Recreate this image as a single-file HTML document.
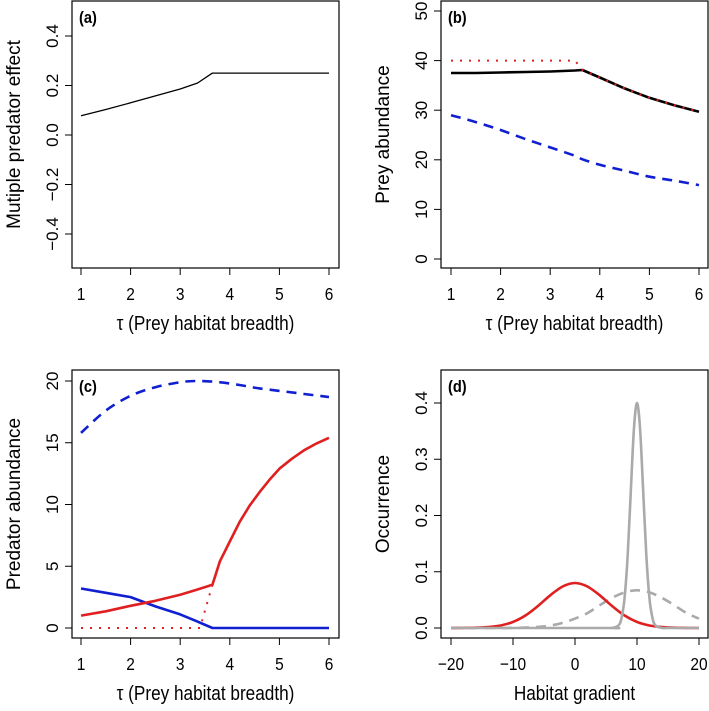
<!DOCTYPE html>
<html><head><meta charset="utf-8"><style>
body{margin:0;background:#fff}
svg{display:block;font-family:"Liberation Sans",Arial,sans-serif}
</style></head><body>
<svg id="fig" width="709" height="711" viewBox="0 0 709 711"></svg>
<script>
const tauTicks=[1,2,3,4,5,6];
// panel a
const aX=[1,1.5,2,2.5,3,3.35,3.65,4,5,6];
const aY=[0.078,0.103,0.13,0.158,0.186,0.21,0.25,0.25,0.25,0.25];
const aTicks=[-0.4,-0.2,0.0,0.2,0.4];
const aTickLabels=["\u22120.4","\u22120.2","0.0","0.2","0.4"];
// panel b
const bX=[1,1.5,2,2.5,3,3.5,3.65,4,4.5,5,5.5,6];
const bBlack=[37.5,37.5,37.6,37.7,37.8,38,38.1,36.6,34.4,32.5,31,29.7];
const bRedX=[1,3.5,3.65,4,4.5,5,5.5,6];
const bRed=[40,40,38.1,36.6,34.4,32.5,31,29.7];
const bBlue=[29,27.6,26,24.2,22.5,20.8,20.1,19,17.8,16.6,15.8,14.9];
const bTicks=[0,10,20,30,40,50];
// panel c
const cX=[1,1.5,2,2.5,3,3.3,3.65,4,4.3,4.6,5,5.5,6];
const cBlueDash=[15.8,17.6,18.8,19.5,19.9,20,19.95,19.8,19.6,19.4,19.2,18.95,18.7];
const cBlue=[3.2,2.85,2.5,1.75,1.1,0.6,0,0,0,0,0,0,0];
const cRedX=[1,1.5,2,2.5,3,3.3,3.65,3.8,4,4.2,4.4,4.6,4.8,5,5.25,5.5,5.75,6];
const cRed=[1,1.35,1.8,2.2,2.7,3.05,3.5,5.4,7,8.6,9.9,11,12,12.9,13.7,14.4,14.95,15.4];
const cRedDotX=[1,3.4,3.65];
const cRedDot=[0,0,3.5];
const cTicks=[0,5,10,15,20];
// panel d
const dX=[-20,-18,-16,-14,-12,-10,-8,-6,-4,-2,0,2,4,6,8,10,12,14,16,18,20];
const dRed=[0,0.0002,0.0005,0.0016,0.0045,0.0108,0.0222,0.0389,0.0581,0.0737,0.08,0.0737,0.0581,0.0389,0.0222,0.0108,0.0045,0.0016,0.0005,0.0002,0];
const dDash=[0,0,0,0,0,0.0003,0.0007,0.0019,0.0044,0.009,0.0167,0.0264,0.0406,0.0537,0.0633,0.067,0.0633,0.0537,0.0406,0.0264,0.0167];
const dSolX=[-20,5,6,7,7.5,8,8.5,9,9.5,10,10.5,11,11.5,12,12.5,13,14,15,20];
const dSol=[0,0,0.0001,0.0044,0.0176,0.054,0.13,0.243,0.353,0.4,0.353,0.243,0.13,0.054,0.0176,0.0044,0.0001,0,0];
const dXTicks=[-20,-10,0,10,20];
const dXLabels=["\u221220","\u221210","0","10","20"];
const dTicks=[0,0.1,0.2,0.3,0.4];
const dTickLabels=["0.0","0.1","0.2","0.3","0.4"];

const NS="http://www.w3.org/2000/svg";
const svg=document.getElementById('fig');
function mk(tag,attrs,parent,text){const e=document.createElementNS(NS,tag);for(const k in attrs)e.setAttribute(k,attrs[k]);if(text!==undefined)e.textContent=text;(parent||svg).appendChild(e);return e;}
function scale(d0,d1,r0,r1){return v=>r0+(v-d0)/(d1-d0)*(r1-r0);}
const NARROW='scale(0.86,1)';
function panel(id,box,xs,ys,xt,xtl,yt,ytl,xtitle,ytitle,letter){
  const g=mk('g',{});
  
  
  const fr=mk('rect',{x:box[0],y:box[1],width:box[2]-box[0],height:box[3]-box[1],fill:'none',stroke:'#000','stroke-width':1.2},g);
  
  const xa=mk('g',{},g);
  mk('line',{x1:xs(xt[0]),x2:xs(xt[xt.length-1]),y1:box[3],y2:box[3],stroke:'#000'},xa);
  xt.forEach((v,i)=>{mk('line',{x1:xs(v),x2:xs(v),y1:box[3],y2:box[3]+7,stroke:'#000'},xa);
    const t=mk('text',{transform:`translate(${xs(v)},${box[3]+32}) ${NARROW}`,'text-anchor':'middle','font-size':18},xa,xtl[i]);
    });
  const ya=mk('g',{},g);
  yt.forEach((v,i)=>{mk('line',{x1:box[0],x2:box[0]-7,y1:ys(v),y2:ys(v),stroke:'#000'},ya);
    const t=mk('text',{transform:`translate(${box[0]-14},${ys(v)}) rotate(-90)`,'text-anchor':'middle','font-size':17},ya,ytl[i]);
    });
  const xT=mk('text',{transform:`translate(${(box[0]+box[2])/2},${box[3]+62}) ${NARROW}`,'text-anchor':'middle','font-size':20},g,xtitle);
  
  const yT=mk('text',{transform:`translate(${box[0]-52},${(box[1]+box[3])/2}) rotate(-90)`,'text-anchor':'middle','font-size':19},g,ytitle);
  
  const L=mk('text',{transform:`translate(${box[0]+7},${box[1]+22}) ${NARROW}`,'font-size':17,'font-weight':'bold'},g,letter);
  
  return g;
}
function line(g,xs,ys,X,Y,style,name,smooth){
  const P=X.map((x,i)=>[xs(x),ys(Y[i])]);
  let d='M'+P[0][0].toFixed(1)+','+P[0][1].toFixed(1);
  for(let i=1;i<P.length;i++){
    if(smooth){
      const p0=P[Math.max(0,i-2)],p1=P[i-1],p2=P[i],p3=P[Math.min(P.length-1,i+1)];
      const c1=[p1[0]+(p2[0]-p0[0])/6,p1[1]+(p2[1]-p0[1])/6],c2=[p2[0]-(p3[0]-p1[0])/6,p2[1]-(p3[1]-p1[1])/6];
      d+='C'+c1.map(v=>v.toFixed(1))+' '+c2.map(v=>v.toFixed(1))+' '+p2.map(v=>v.toFixed(1));
    } else d+='L'+P[i][0].toFixed(1)+','+P[i][1].toFixed(1);
  }
  const p=mk('path',Object.assign({d:d,fill:'none','stroke-linejoin':'round'},style),g);
  
}
const tt="\u03C4 (Prey habitat breadth)";
const tl=tauTicks.map(String);
// a
let xs=scale(1,6,81,329),ys=scale(0,0.4,135,36);
let g=panel('a',[72,1,339,268],xs,ys,tauTicks,tl,aTicks,aTickLabels,tt,"Mutiple predator effect","(a)");
line(g,xs,ys,aX,aY,{stroke:'#000','stroke-width':1.3},'multiple-predator-effect-line');
// b
xs=scale(1,6,451,699);ys=scale(0,50,259,11);
g=panel('b',[441,1,708,268],xs,ys,tauTicks,tl,bTicks,bTicks.map(String),tt,"Prey abundance","(b)");
line(g,xs,ys,bX,bBlue,{stroke:'#1020d0','stroke-width':2.6,'stroke-dasharray':'10,7'},'prey-blue-dashed',true);
line(g,xs,ys,bX,bBlack,{stroke:'#000','stroke-width':2.6},'prey-black-solid');
line(g,xs,ys,bRedX,bRed,{stroke:'#e02020','stroke-width':2,'stroke-dasharray':'2,7'},'prey-red-dotted');
// c
xs=scale(1,6,81,329);ys=scale(0,20,628,381);
g=panel('c',[72,370,339,638],xs,ys,tauTicks,tl,cTicks,cTicks.map(String),tt,"Predator abundance","(c)");
line(g,xs,ys,cX,cBlueDash,{stroke:'#1020d0','stroke-width':2.6,'stroke-dasharray':'10,7'},'predator-blue-dashed',true);
line(g,xs,ys,cRedDotX,cRedDot,{stroke:'#e02020','stroke-width':2,'stroke-dasharray':'2,7'},'predator-red-dotted');
line(g,xs,ys,cX,cBlue,{stroke:'#1020d0','stroke-width':2.6},'predator-blue-solid');
line(g,xs,ys,cRedX,cRed,{stroke:'#e02020','stroke-width':2.6},'predator-red-solid');
// d
xs=scale(-20,20,451,699);ys=scale(0,0.4,628,403);
g=panel('d',[441,370,708,638],xs,ys,dXTicks,dXLabels,dTicks,dTickLabels,"Habitat gradient","Occurrence","(d)");
line(g,xs,ys,dX,dDash,{stroke:'#aaa','stroke-width':2.6,'stroke-dasharray':'10,7'},'occurrence-grey-dashed',true);
line(g,xs,ys,dX,dRed,{stroke:'#e02020','stroke-width':2.6},'occurrence-red',true);
line(g,xs,ys,dSolX,dSol,{stroke:'#aaa','stroke-width':2.6},'occurrence-grey-solid',true);
</script>
</body></html>
